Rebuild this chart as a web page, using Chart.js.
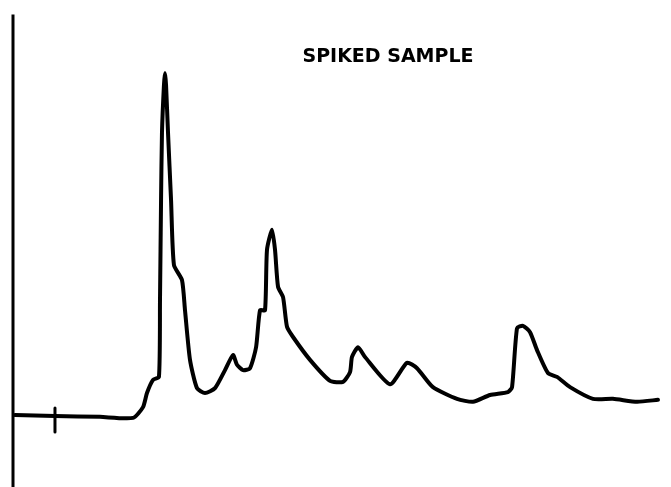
<!DOCTYPE html>
<html>
<head>
<meta charset="utf-8">
<script src="https://cdn.jsdelivr.net/npm/chart.js@4"></script>
<style>
  html, body { margin: 0; padding: 0; background: #fff; }
  #wrap { width: 671px; height: 487px; position: relative; }
</style>
</head>
<body>
<div id="wrap"><canvas id="chromChart"></canvas></div>
<script>
// retention time (min) and detector response (% of full scale)
const times = [0.15, 3.19, 6.61, 9.12, 9.88, 10.18, 10.64, 11.09, 11.17, 11.25, 11.32, 11.47, 11.55, 11.63, 11.78,
  12.01, 12.23, 12.84, 13.07, 13.45, 13.98, 14.59, 15.35, 16.11, 16.72, 17.02, 17.48, 18.01, 18.47, 18.77,
  19.15, 19.30, 19.68, 19.91, 20.14, 20.52, 20.82, 21.28, 22.57, 24.09, 25.08, 25.61, 25.76, 26.22, 26.75,
  28.65, 29.94, 30.70, 31.91, 33.74, 34.95, 36.25, 37.61, 37.92, 38.30, 38.75, 39.29, 39.82, 40.65, 41.34,
  42.33, 44.07, 45.59, 47.42, 49.01];
const response = [14.8, 14.6, 14.4, 14.2, 16.4, 19.3, 22.0, 22.6, 38.4, 58.9, 72.7, 82.5, 85.0, 82.5, 72.7,
  58.9, 45.6, 42.5, 36.3, 26.1, 20.3, 19.3, 20.3, 24.0, 27.1, 25.1, 24.0, 24.4, 28.7, 36.3,
  36.3, 48.7, 52.8, 48.7, 41.1, 39.0, 32.9, 30.8, 26.1, 21.8, 21.6, 23.6, 26.7, 28.7, 26.7,
  21.1, 25.5, 24.4, 20.5, 18.1, 17.5, 18.9, 19.5, 20.5, 32.6, 33.1, 31.8, 28.1, 23.4, 22.6,
  20.5, 18.1, 18.1, 17.5, 17.9];
// injection mark on the baseline
const injectTime = 3.19;
const injectSpan = [11.3, 16.2];
const chartTitle = 'SPIKED SAMPLE';

const trace = times.map((t, i) => ({ x: t, y: response[i] }));
const marker = injectSpan.map(v => ({ x: injectTime, y: v }));

// left response axis line and the label, drawn on the canvas
const decorations = {
  id: 'decorations',
  afterDatasetsDraw(chart) {
    const ctx = chart.ctx;
    const xs = chart.scales.x, ys = chart.scales.y;
    ctx.save();
    ctx.strokeStyle = '#000';
    ctx.lineWidth = 3;
    ctx.beginPath();
    ctx.moveTo(xs.getPixelForValue(0), ys.getPixelForValue(97));
    ctx.lineTo(xs.getPixelForValue(0), chart.height);
    ctx.stroke();
    ctx.fillStyle = '#000';
    ctx.font = 'bold 19px "DejaVu Sans"';
    ctx.textAlign = 'center';
    ctx.textBaseline = 'middle';
    ctx.fillText(chartTitle, 388, 57);
    ctx.restore();
  }
};

new Chart(document.getElementById('chromChart'), {
  type: 'line',
  data: {
    datasets: [{
      data: trace,
      borderColor: '#000',
      borderWidth: 4,
      pointRadius: 0,
      tension: 0.2,
      borderCapStyle: 'round',
      borderJoinStyle: 'round'
    }, {
      data: marker,
      borderColor: '#000',
      borderWidth: 3,
      pointRadius: 0,
      borderCapStyle: 'round'
    }]
  },
  options: {
    responsive: true,
    maintainAspectRatio: false,
    animation: false,
    layout: { padding: { left: 13, right: 0, top: 0, bottom: 0 } },
    scales: {
      x: { type: 'linear', min: 0, max: 50, display: false },
      y: { min: 0, max: 100, display: false }
    },
    plugins: {
      legend: { display: false },
      tooltip: { enabled: false }
    }
  },
  plugins: [decorations]
});
</script>
</body>
</html>
